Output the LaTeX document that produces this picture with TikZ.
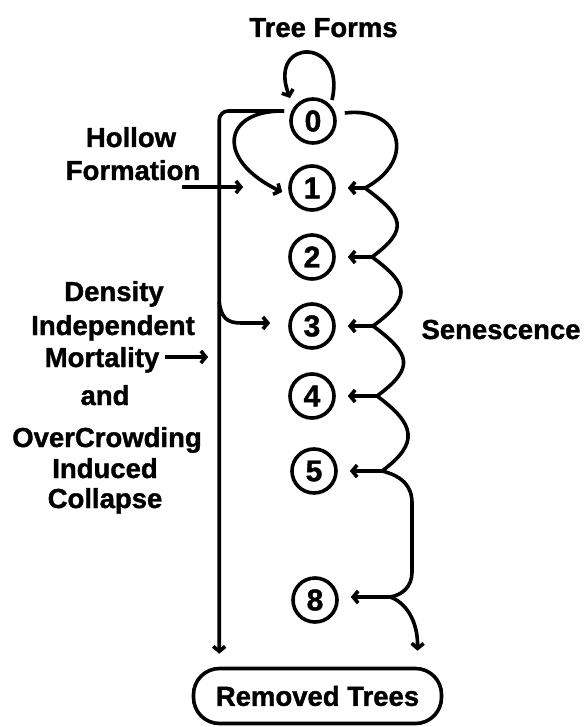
\documentclass[tikz,border=0pt]{standalone}
\usepackage{fontspec}
\setmainfont{Liberation Sans}
\newfontfamily\heavyfont[FakeBold=1.3]{Liberation Sans Bold}
\usetikzlibrary{arrows.meta,calc}
\begin{document}
\begin{tikzpicture}[x=1pt,y=-1pt,
  lbl/.style={anchor=base,inner sep=0pt,font=\fontsize{27.5}{30}\heavyfont},
  state/.style={circle,draw,line width=3.6pt,minimum size=44pt,inner sep=0pt,font=\fontsize{30}{32}\heavyfont},
  conn/.style={line width=3.6pt},
  arr/.style={line width=3.6pt,-{Straight Barb[length=5pt,width=12pt]}}]
\useasboundingbox[fill=white] (0,0) rectangle (585,727);
% states
\node[state] (n0) at (313,121) {0};
\node[state] (n1) at (312,188) {1};
\node[state] (n2) at (312,257) {2};
\node[state] (n3) at (312,326) {3};
\node[state] (n4) at (312,396) {4};
\node[state] (n5) at (314,471) {5};
\node[state] (n8) at (315,600) {8};
\node[draw,line width=3.6pt,rounded corners=26pt,minimum width=248pt,minimum height=55pt,
  font=\fontsize{27.5}{30}\heavyfont,inner sep=0pt] (rem) at (317.5,696) {Removed Trees};
% labels
\node[lbl] (tf) at (323.5,37) {Tree Forms};
\node[lbl] (hf1) at (131,147) {Hollow};
\node[lbl] (hf2) at (133,180) {Formation};
\node[lbl] (d1) at (114,301) {Density};
\node[lbl] (d2) at (113,335) {Independent};
\node[lbl] (d3) at (102,367) {Mortality};
\node[lbl] (d4) at (105,405) {and};
\node[lbl] (d5) at (107,447) {OverCrowding};
\node[lbl] (d6) at (105,478) {Induced};
\node[lbl] (d7) at (105,508) {Collapse};
\node[lbl] (sen) at (501,339) {Senescence};
% junction points
\coordinate (J1) at ($(n1)+(53,0)$);
\coordinate (J2) at ($(n2)+(60,0)$);
\coordinate (J3) at ($(n3)+(61,0)$);
\coordinate (J4) at ($(n4)+(65,0)$);
\coordinate (J5) at ($(n5)+(68,0)$);
\coordinate (J8) at ($(n8)+(75,-3)$);
\coordinate (s0r) at ($(n0.east)+(8,-8)$);
% self loop
\draw[arr] ($(n0)+(19,-21)$) .. controls ($(n0)+(34,-84)$) and ($(n0)+(-46,-84)$) .. ($(n0)+(-23,-23)$);
% senescence chain
\draw[conn] (s0r) .. controls ($(s0r)+(55,-7)$) and ($(J1)+(53,-28)$) .. (J1);
\draw[conn] (J1) .. controls ($(J1)+(38,28)$) and ($(J2)+(38,-28)$) .. (J2);
\draw[conn] (J2) .. controls ($(J2)+(38,28)$) and ($(J3)+(38,-28)$) .. (J3);
\draw[conn] (J3) .. controls ($(J3)+(38,28)$) and ($(J4)+(38,-28)$) .. (J4);
\draw[conn] (J4) .. controls ($(J4)+(38,28)$) and ($(J5)+(38,-28)$) .. (J5);
\draw[conn] (J5) .. controls ($(J5)+(20,5)$) and ($(J5)+(30,15)$) .. ($(J5)+(30,32)$)
  -- ($(J8)+(22,-25)$) .. controls ($(J8)+(22,-10)$) and ($(J8)+(12,-2)$) .. (J8);
\foreach \j/\n in {J1/n1,J2/n2,J3/n3,J4/n4,J5/n5,J8/n8}
  \draw[arr,shorten >=12pt] (\j) -- (\j -| \n.east);
\coordinate (r8) at ($(rem.north)+(100,-16)$);
\draw[arr] (J8) .. controls ($(J8)+(15,5)$) and ($(J8)+(28,23)$) .. (r8);
% left side: collapse line
\coordinate (sL) at ($(n0.west)+(-5,-10)$);
\coordinate (vt) at ($(sL)+(-65,0)$);
\coordinate (vb) at ($(vt)+(0,191)$);
\draw[arr,rounded corners=9pt,shorten >=13pt] (sL) -- (vt) -- (vt |- rem.north);
\draw[arr] (sL) .. controls ($(sL)+(-62,-1)$) and ($(n1)+(-97,-28)$) .. ($(n1.west)+(-6,4)$);
\coordinate (b2) at ($(vb)+(22,21)$);
\draw[arr,shorten >=18pt] (vb) .. controls ($(vb)+(2,16)$) and ($(vb)+(8,21)$) .. (b2) -- (b2 -| n3.west);
% input arrows
\coordinate (hs) at ($(hf2.base)+(49,7)$);
\draw[arr,shorten >=45pt] (hs) -- (hs -| n1.west);
\coordinate (ms) at ($(d3.base)+(63,-10)$);
\draw[arr,shorten >=11pt] (ms) -- (ms -| vt);
\end{tikzpicture}
\end{document}
